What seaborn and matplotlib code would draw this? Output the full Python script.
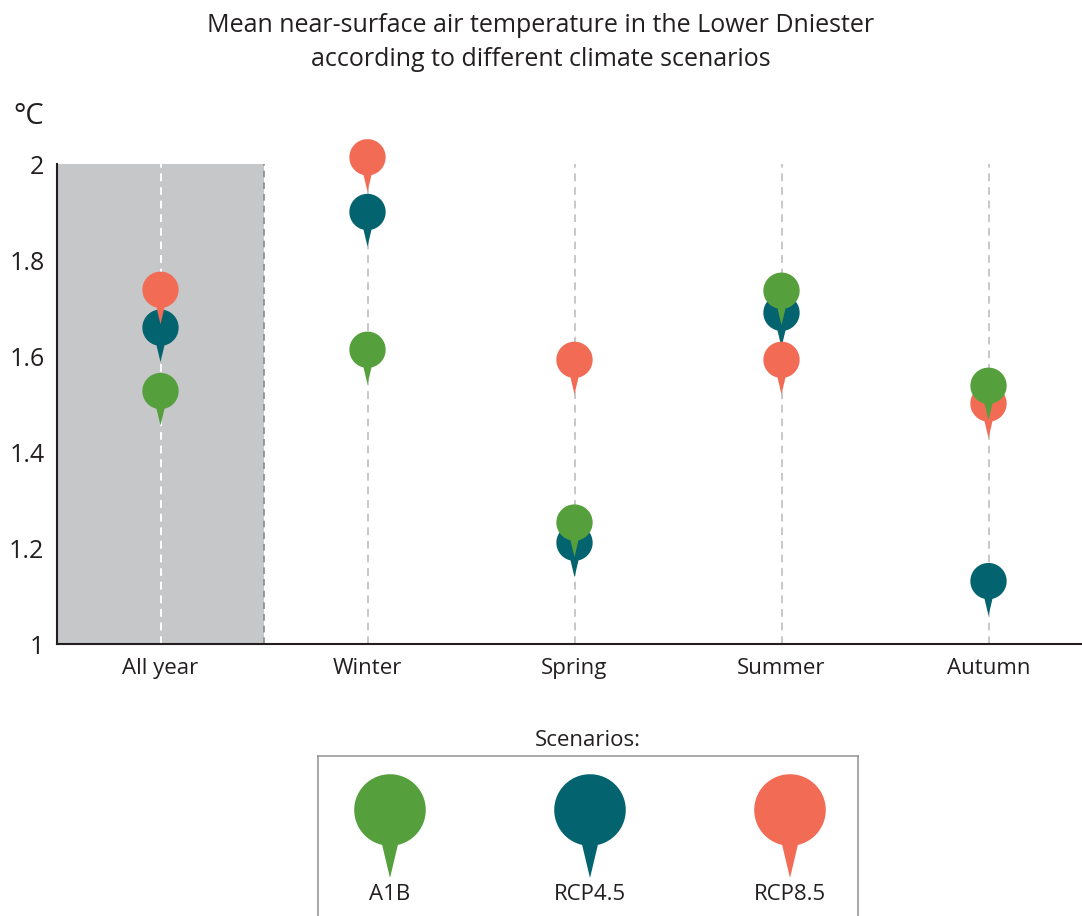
"""Mean near-surface air temperature in the Lower Dniester, pin-marker chart."""

import matplotlib
matplotlib.use("Agg")
import matplotlib.pyplot as plt
import numpy as np
import pandas as pd
import seaborn as sns
from matplotlib.path import Path

categories = ["All year", "Winter", "Spring", "Summer", "Autumn"]
a1b = [1.527, 1.613, 1.253, 1.736, 1.538]
rcp45 = [1.659, 1.900, 1.211, 1.690, 1.131]
rcp85 = [1.738, 2.014, 1.592, 1.592, 1.501]
scenarios = ["A1B", "RCP4.5", "RCP8.5"]
yticks = [1.0, 1.2, 1.4, 1.6, 1.8, 2.0]
ytick_labels = ["1", "1.2", "1.4", "1.6", "1.8", "2"]

COLORS = {"A1B": "#55a03c", "RCP4.5": "#03636f", "RCP8.5": "#f26c55"}
DPI = 100

sns.set_style("white")
plt.rcParams.update({
    "font.family": ["Open Sans", "DejaVu Sans"],
    "text.color": "#231f20",
    "xtick.color": "#231f20",
    "ytick.color": "#231f20",
})


def pin_path(tail=1.9, half_w=0.22):
    # circle of radius 1 at the origin, with a pointed tail going down
    a = np.arcsin(half_w)
    start = -np.pi / 2 + a
    stop = 3 * np.pi / 2 - a
    t = np.linspace(start, stop, 90)
    verts = np.column_stack([np.cos(t), np.sin(t)])
    verts = np.vstack([verts, [0, -tail], verts[:1]])
    codes = [Path.MOVETO] + [Path.LINETO] * (len(verts) - 2) + [Path.CLOSEPOLY]
    return Path(verts, codes)


PIN = pin_path()


def size_for_tip(px):
    ms = 2 * px * 72 / DPI
    return ms ** 2


# long-form table, row order sets which pin lies on top
df = pd.concat([
    pd.DataFrame({"pos": np.arange(len(categories)), "value": rcp45, "scenario": "RCP4.5"}),
    pd.DataFrame({"pos": np.arange(len(categories)), "value": rcp85, "scenario": "RCP8.5"}),
    pd.DataFrame({"pos": np.arange(len(categories)), "value": a1b, "scenario": "A1B"}),
], ignore_index=True)

W, H = 1082, 916
fig = plt.figure(figsize=(W / DPI, H / DPI), dpi=DPI)
ax = fig.add_axes([57 / W, (H - 644) / H, (1092 - 57) / W, 480 / H])

ax.axvspan(-0.5, 0.5, color="#c6c7c9", lw=0, zorder=0)
for i in range(len(categories)):
    col = "white" if i == 0 else "#c8c8c8"
    ax.axvline(i, color=col, lw=1.4, dashes=(4, 3), zorder=1)
ax.axvline(0.5, color="#8a8a8a", lw=1.2, dashes=(4, 3), zorder=1)

sns.scatterplot(data=df, x="pos", y="value", hue="scenario", palette=COLORS,
                marker=PIN, s=size_for_tip(34.5), linewidth=0, legend=False,
                clip_on=False, zorder=3, ax=ax)

ax.set_xlim(-0.5, 4.5)
ax.set_ylim(1, 2)
ax.set_xlabel("")
ax.set_ylabel("")
ax.set_xticks(range(len(categories)))
ax.set_xticklabels(categories, fontsize=16)
ax.set_xticks(np.arange(-0.5, 4.6, 1), minor=True)
ax.tick_params(axis="x", which="major", length=0, pad=10)
ax.tick_params(axis="x", which="minor", length=7, width=1.5, direction="out", color="#231f20")
ax.set_yticks(yticks)
ax.set_yticklabels(ytick_labels, fontsize=18)
ax.tick_params(axis="y", length=6, width=1.3, direction="out", color="#231f20", pad=3)
for side in ("top", "right"):
    ax.spines[side].set_visible(False)
for side in ("left", "bottom"):
    ax.spines[side].set_color("#231f20")
    ax.spines[side].set_linewidth(1.5)

fig.text(0.5, 1 - 25 / H, "Mean near-surface air temperature in the Lower Dniester",
         ha="center", va="center", fontsize=18)
fig.text(0.5, 1 - 60 / H, "according to different climate scenarios",
         ha="center", va="center", fontsize=18)
fig.text(13 / W, 1 - 117 / H, "°C", ha="left", va="center", fontsize=21)

# legend box
lax = fig.add_axes([318 / W, 0, 540 / W, (H - 756) / H])
leg = pd.DataFrame({"pos": [0, 1, 2], "value": [106] * 3, "scenario": scenarios})
sns.scatterplot(data=leg, x="pos", y="value", hue="scenario", palette=COLORS,
                marker=PIN, s=size_for_tip(68), linewidth=0, legend=False,
                clip_on=False, ax=lax)
for i, name in enumerate(scenarios):
    lax.text(i, 22, name, ha="center", va="center", fontsize=16)
lax.set_xlim(-0.36, 2.34)
lax.set_ylim(0, H - 756)
lax.set_xticks([])
lax.set_yticks([])
lax.set_xlabel("")
lax.set_ylabel("")
lax.spines["bottom"].set_visible(False)
for side in ("top", "left", "right"):
    lax.spines[side].set_color("#9a9a9a")
    lax.spines[side].set_linewidth(1.2)
fig.text((318 + 270) / W, 1 - 740 / H, "Scenarios:", ha="center", va="center", fontsize=16)

fig.savefig("out.png", dpi=DPI)
